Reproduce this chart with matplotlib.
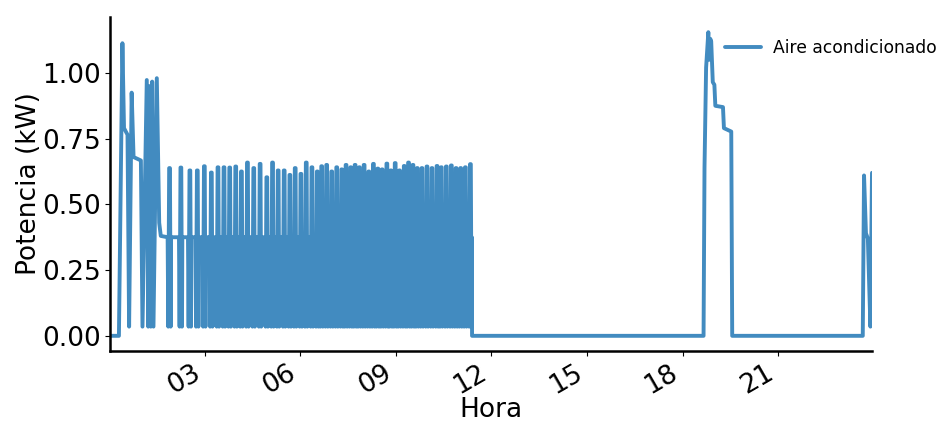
import matplotlib
matplotlib.use("Agg")
import matplotlib.pyplot as plt

# --- Consumo del aire acondicionado a lo largo del día (hora decimal, kW) ---

# Arranque de madrugada: pico inicial y primeros ciclos largos
hora_arranque = [0.02, 0.30, 0.41, 0.46, 0.57, 0.62, 0.70, 0.76, 0.99, 1.04,
                 1.175, 1.22, 1.27, 1.30, 1.345, 1.385, 1.49, 1.565, 1.615]
kw_arranque = [0.0, 0.0, 1.113, 0.79, 0.765, 0.035, 0.925, 0.68, 0.667, 0.035,
               0.973, 0.035, 0.95, 0.035, 0.967, 0.035, 0.98, 0.43, 0.38]

# Ciclado del compresor: nivel de reposo, mínimo y picos de cada ciclo
kw_reposo = 0.375
kw_minimo = 0.035
picos_hora = [1.890, 2.246, 2.529, 2.762, 2.983, 3.203, 3.411, 3.600, 3.780, 3.969,
              4.148, 4.337, 4.535, 4.734, 4.945, 5.124, 5.301, 5.490, 5.669, 5.836,
              6.016, 6.183, 6.362, 6.529, 6.668, 6.825, 6.983, 7.140, 7.298, 7.433,
              7.581, 7.717, 7.852, 8.000, 8.148, 8.293, 8.431, 8.567, 8.715, 8.841,
              8.976, 9.112, 9.260, 9.395, 9.534, 9.669, 9.817, 9.975, 10.132, 10.290,
              10.425, 10.583, 10.740, 10.888, 11.033, 11.181, 11.339]
picos_kw = [0.638, 0.640, 0.629, 0.629, 0.645, 0.621, 0.641, 0.641, 0.640, 0.644,
            0.625, 0.659, 0.638, 0.654, 0.603, 0.659, 0.629, 0.629, 0.612, 0.638,
            0.616, 0.659, 0.641, 0.625, 0.645, 0.650, 0.625, 0.641, 0.633, 0.650,
            0.641, 0.650, 0.641, 0.650, 0.625, 0.654, 0.636, 0.633, 0.655, 0.629,
            0.657, 0.629, 0.646, 0.659, 0.650, 0.638, 0.638, 0.644, 0.638, 0.646,
            0.641, 0.644, 0.648, 0.638, 0.638, 0.641, 0.653]

# Apagado a media mañana
hora_parada = [11.39]
kw_parada = [0.0]

# Encendido de la tarde
hora_tarde = [18.66, 18.69, 18.74, 18.81, 18.84, 18.87, 18.90, 18.95, 19.00,
              19.03, 19.27, 19.30, 19.53, 19.56]
kw_tarde = [0.0, 0.64, 1.02, 1.155, 1.05, 1.13, 1.12, 0.965, 0.955,
            0.875, 0.87, 0.79, 0.777, 0.0]

# Encendido al final de la noche
hora_noche = [23.66, 23.70, 23.76, 23.82, 23.90, 23.95]
kw_noche = [0.0, 0.61, 0.39, 0.37, 0.035, 0.62]

etiquetas_hora = ["03", "06", "09", "12", "15", "18", "21"]
posiciones_hora = [3, 6, 9, 12, 15, 18, 21]

# --- Serie completa: cada ciclo baja al mínimo, sube al pico y vuelve ---
hora = list(hora_arranque)
potencia = list(kw_arranque)
for h, k in zip(picos_hora, picos_kw):
    hora += [h - 0.06, h - 0.04, h - 0.012, h + 0.012, h + 0.035, h + 0.045]
    potencia += [kw_reposo, kw_minimo, k, k, kw_minimo, kw_reposo]
hora += hora_parada + hora_tarde + hora_noche
potencia += kw_parada + kw_tarde + kw_noche

# --- Figura ---
color_linea = "#428bc0"
fig = plt.figure(figsize=(9.39, 4.22), dpi=100)
ax = fig.add_axes([110 / 939, 71 / 422, 762 / 939, 334 / 422])

ax.plot(hora, potencia, color=color_linea, linewidth=2.8,
        solid_joinstyle="round", solid_capstyle="round",
        label="Aire acondicionado")

ax.set_xlim(hora[0], hora[-1])
ax.margins(y=0.05)
ax.set_xticks(posiciones_hora)
ax.set_xticklabels(etiquetas_hora, rotation=30, ha="right")
ax.set_yticks([0.0, 0.25, 0.5, 0.75, 1.0])
ax.set_yticklabels(["0.00", "0.25", "0.50", "0.75", "1.00"])

ax.tick_params(axis="both", labelsize=19, length=3.5, width=0.8,
               pad=3, colors="black")
ax.set_xlabel("Hora", fontsize=19, labelpad=-1.5)
ax.set_ylabel("Potencia (kW)", fontsize=19, labelpad=0.5)

for lado in ("top", "right"):
    ax.spines[lado].set_visible(False)
for lado in ("left", "bottom"):
    ax.spines[lado].set_linewidth(1.8)
    ax.spines[lado].set_color("black")

ax.legend(loc="upper left", bbox_to_anchor=(725 / 939, (422 - 39) / 422),
          bbox_transform=fig.transFigure, frameon=False, fontsize=12.3,
          borderaxespad=0, borderpad=0, handlelength=2.1, handletextpad=0.7)

fig.savefig("out.png", dpi=100)
